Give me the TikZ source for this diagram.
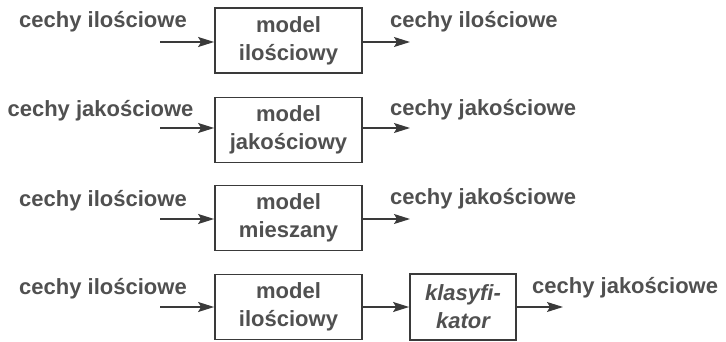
\documentclass[tikz,border=0pt]{standalone}
\usepackage{fontspec}
\setmainfont{Liberation Sans}
\usetikzlibrary{arrows.meta}
\definecolor{ink}{HTML}{505050}
\definecolor{frame}{HTML}{3A3A3A}
\begin{document}
\begin{tikzpicture}[x=1pt,y=-1pt,
  lbl/.style={text=ink,font=\fontsize{22}{28}\selectfont\bfseries,inner sep=0pt},
  blk/.style={draw=frame,line width=1.8pt,minimum width=147pt,minimum height=65pt,
    align=center,text=ink,font=\fontsize{22}{28}\selectfont\bfseries,inner sep=0pt},
  flow/.style={draw=frame,line width=1.3pt,-{Stealth[length=16pt,width=10pt,inset=3pt]}}]
\useasboundingbox (0,0) rectangle (726,342);

% row 1: quantitative model
\node[lbl] (in1) at (103,22) {cechy ilościowe};
\node[blk] (m1) at (288.5,40.5) {model\\ilościowy};
\node[lbl,anchor=west] (out1) at (390,22) {cechy ilościowe};
\coordinate (s1) at (160,42);
\coordinate (e1) at (410,42);
\draw[flow] (s1) -- (s1 -| m1.west);
\draw[flow] (e1 -| m1.east) -- (e1);

% row 2: qualitative model
\node[lbl] (in2) at (100.5,111) {cechy jakościowe};
\node[blk] (m2) at (288.5,130) {model\\jakościowy};
\node[lbl,anchor=west] (out2) at (390,110) {cechy jakościowe};
\coordinate (s2) at (160,128);
\coordinate (e2) at (410,128);
\draw[flow] (s2) -- (s2 -| m2.west);
\draw[flow] (e2 -| m2.east) -- (e2);

% row 3: mixed model
\node[lbl] (in3) at (103,201) {cechy ilościowe};
\node[blk] (m3) at (288.5,218) {model\\mieszany};
\node[lbl,anchor=west] (out3) at (390,199) {cechy jakościowe};
\coordinate (s3) at (160,219);
\coordinate (e3) at (410,219);
\draw[flow] (s3) -- (s3 -| m3.west);
\draw[flow] (e3 -| m3.east) -- (e3);

% row 4: quantitative model followed by a classifier
\node[lbl] (in4) at (103,289) {cechy ilościowe};
\node[blk] (m4) at (288.5,307) {model\\ilościowy};
\node[blk,minimum width=106pt,minimum height=66pt,font=\fontsize{22}{28}\selectfont\bfseries\itshape]
  (k4) at (463,307) {klasyfi-\\kator};
\node[lbl,anchor=west] (out4) at (532,288) {cechy jakościowe};
\coordinate (s4) at (160,307);
\coordinate (e4) at (563,307);
\draw[flow] (s4) -- (m4.west);
\draw[flow] (m4.east) -- (k4.west);
\draw[flow] (k4.east) -- (e4);
\end{tikzpicture}
\end{document}
